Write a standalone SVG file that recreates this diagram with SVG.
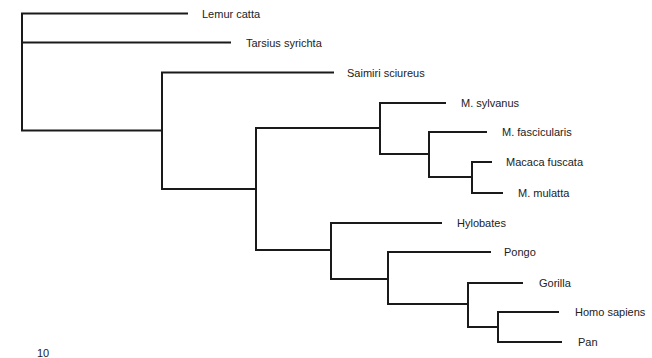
<svg xmlns="http://www.w3.org/2000/svg" width="652" height="358" viewBox="0 0 652 358">
  <style>
    .branch { fill: none; stroke: #1a1a1a; stroke-width: 2; stroke-linecap: butt; stroke-linejoin: miter; }
    .taxon { font-family: "Liberation Sans", Arial, sans-serif; font-size: 11px; fill: #222; }
  </style>
  <rect width="652" height="358" fill="#ffffff"/>

  <!-- Tree branches (rectangular cladogram) -->
  <g id="connectors">
    <path class="branch" d="M188 13.5 H22 V130.5 H162"/>
    <path class="branch" d="M22 42.5 H231"/>
    <path class="branch" d="M334 72.5 H162 V189 H256"/>
    <path class="branch" d="M380 128 H256 V250 H331"/>
    <path class="branch" d="M446 103 H380 V154 H429"/>
    <path class="branch" d="M487 132 H429 V177 H472"/>
    <path class="branch" d="M492 162 H472 V193 H503"/>
    <path class="branch" d="M442 223 H331 V279 H388"/>
    <path class="branch" d="M491 252 H388 V304 H468"/>
    <path class="branch" d="M523 283 H468 V327 H498"/>
    <path class="branch" d="M559 312 H498 V342 H562"/>
  </g>

  <!-- Leaf labels -->
  <g id="lemur-catta"><text class="taxon" x="202" y="17.5">Lemur catta</text></g>
  <g id="tarsius-syrichta"><text class="taxon" x="246" y="46.5">Tarsius syrichta</text></g>
  <g id="saimiri-sciureus"><text class="taxon" x="347" y="76.5">Saimiri sciureus</text></g>
  <g id="m-sylvanus"><text class="taxon" x="461" y="107">M. sylvanus</text></g>
  <g id="m-fascicularis"><text class="taxon" x="502" y="136">M. fascicularis</text></g>
  <g id="macaca-fuscata"><text class="taxon" x="506" y="166">Macaca fuscata</text></g>
  <g id="m-mulatta"><text class="taxon" x="518" y="197">M. mulatta</text></g>
  <g id="hylobates"><text class="taxon" x="457" y="227">Hylobates</text></g>
  <g id="pongo"><text class="taxon" x="504" y="256">Pongo</text></g>
  <g id="gorilla"><text class="taxon" x="539" y="287">Gorilla</text></g>
  <g id="homo-sapiens"><text class="taxon" x="575" y="316">Homo sapiens</text></g>
  <g id="pan"><text class="taxon" x="578" y="346">Pan</text></g>

  <!-- Scale label -->
  <g id="scale"><text class="taxon" x="37" y="357">10</text></g>
</svg>
